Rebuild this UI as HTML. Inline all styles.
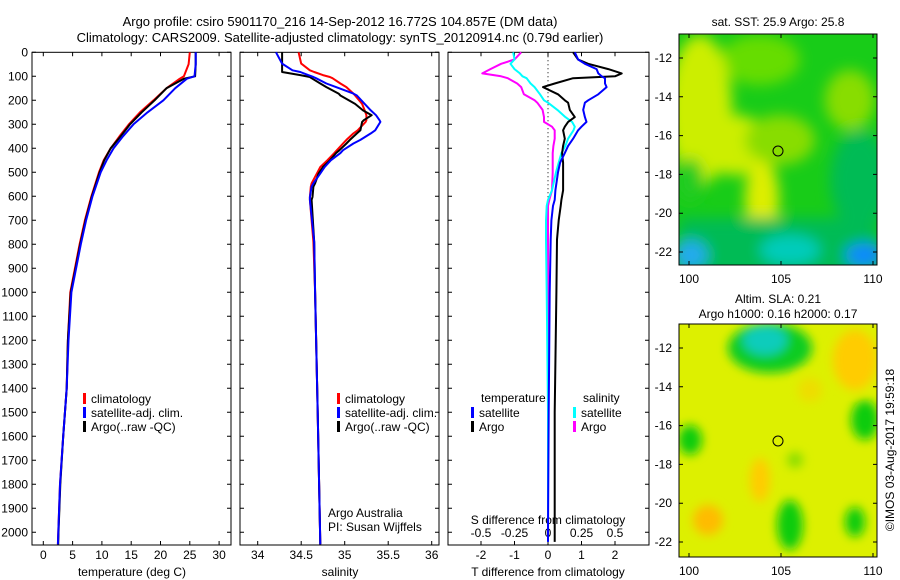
<!DOCTYPE html>
<html><head><meta charset="utf-8"><style>
body{margin:0;background:#fff}
svg{display:block;font-family:"Liberation Sans",sans-serif}
text{fill:#000}
</style></head><body>
<svg id="c" width="900" height="580" viewBox="0 0 900 580" xmlns="http://www.w3.org/2000/svg">
<defs>
<clipPath id="m1c"><rect x="679" y="34" width="198" height="231"/></clipPath>
<clipPath id="m2c"><rect x="679" y="324" width="198" height="233"/></clipPath>
<filter id="bl" x="-50%" y="-50%" width="200%" height="200%"><feGaussianBlur stdDeviation="7"/></filter>
<filter id="bl2" x="-50%" y="-50%" width="200%" height="200%"><feGaussianBlur stdDeviation="5"/></filter>
</defs>
<text x="340" y="26" font-size="13" text-anchor="middle">Argo profile: csiro 5901170_216 14-Sep-2012 16.772S 104.857E (DM data)</text>
<text x="340" y="42" font-size="13" text-anchor="middle">Climatology: CARS2009. Satellite-adjusted climatology: synTS_20120914.nc (0.79d earlier)</text>

<g>
<g clip-path="url(#m1c)">
<rect x="679" y="34" width="198" height="231" fill="#18cc18"/>
<g filter="url(#bl)">
<ellipse cx="760" cy="60" rx="40" ry="25" fill="#66dd00"/>
<ellipse cx="700" cy="110" rx="32" ry="75" fill="#ccee00"/>
<ellipse cx="735" cy="145" rx="35" ry="30" fill="#ccee00"/>
<ellipse cx="762" cy="200" rx="17" ry="42" fill="#ddee00"/>
<ellipse cx="780" cy="140" rx="35" ry="25" fill="#88dd00"/>
<ellipse cx="850" cy="100" rx="25" ry="30" fill="#88dd00"/>
<ellipse cx="690" cy="180" rx="14" ry="22" fill="#22cc22"/>
<rect x="679" y="218" width="198" height="60" fill="#00bb55"/>
<ellipse cx="860" cy="180" rx="30" ry="50" fill="#00bb55"/>
<ellipse cx="790" cy="250" rx="30" ry="15" fill="#00ccbb"/>
<ellipse cx="690" cy="255" rx="18" ry="15" fill="#22aaee"/>
<ellipse cx="865" cy="255" rx="20" ry="12" fill="#1188ff"/>
</g></g>
<rect x="679" y="34" width="198" height="231" fill="none" stroke="#000"/>
<circle cx="778" cy="151" r="5" fill="none" stroke="#000"/>
</g>

<g>
<g clip-path="url(#m2c)">
<rect x="679" y="324" width="198" height="233" fill="#ddf000"/>
<g filter="url(#bl2)">
<ellipse cx="770" cy="348" rx="42" ry="25" fill="#11cc22"/>
<ellipse cx="765" cy="340" rx="22" ry="15" fill="#11ccbb"/>
<ellipse cx="855" cy="360" rx="22" ry="30" fill="#ffcc00"/>
<ellipse cx="865" cy="420" rx="14" ry="20" fill="#11cc11"/>
<ellipse cx="690" cy="440" rx="12" ry="15" fill="#11cc11"/>
<ellipse cx="760" cy="480" rx="10" ry="22" fill="#ffcc00"/>
<ellipse cx="708" cy="520" rx="15" ry="15" fill="#ffbb00"/>
<ellipse cx="790" cy="525" rx="13" ry="25" fill="#11cc11"/>
<ellipse cx="855" cy="522" rx="10" ry="15" fill="#11cc11"/>
<ellipse cx="795" cy="460" rx="8" ry="8" fill="#88dd00"/>
<ellipse cx="810" cy="390" rx="12" ry="12" fill="#eedd00"/>
</g></g>
<rect x="679" y="324" width="198" height="233" fill="none" stroke="#000"/>
<circle cx="778" cy="441" r="5" fill="none" stroke="#000"/>
</g>
<text x="778" y="26" font-size="12" text-anchor="middle">sat. SST: 25.9 Argo: 25.8</text>
<text x="778" y="303" font-size="12" text-anchor="middle">Altim. SLA: 0.21</text>
<text x="778" y="318" font-size="12" text-anchor="middle">Argo h1000: 0.16 h2000: 0.17</text>
<text transform="translate(894,450) rotate(-90)" font-size="12" text-anchor="middle">©IMOS 03-Aug-2017 19:59:18</text>
<g id="g"></g>
</svg>
<script>
// depth grid (m)
const depthT = [0,50,100,110,150,200,250,300,350,400,450,500,600,700,800,1000,1200,1400,1600,1800,2000,2050];
const tempClim = [25.0,24.8,24.0,23.3,21.0,18.8,16.5,14.6,13.0,11.5,10.3,9.5,8.2,7.1,6.2,4.6,4.2,4.0,3.4,2.85,2.56,2.5];
const tempSat  = [26.0,26.0,25.8,24.5,22.5,20.5,17.8,15.4,13.6,12.0,10.8,9.8,8.4,7.3,6.4,4.8,4.3,4.0,3.4,2.85,2.56,2.5];
const tempArgo = [26.0,26.0,25.9,24.0,21.0,19.0,16.8,14.8,13.2,11.5,10.4,9.6,8.3,7.2,6.3,4.7,4.2,4.0,3.4,2.9,2.6,2.55];
const depthS = [0,47,75,82,95,103,108,130,145,172,180,215,242,262,283,290,325,338,365,380,408,420,450,478,505,546,560,603,615,790,1000,1500,2050];
const salClim = [34.47,34.5,34.6,34.65,34.75,34.83,34.86,34.95,35.02,35.1,35.12,35.2,35.23,35.25,35.25,35.24,35.15,35.1,35.02,34.98,34.91,34.88,34.8,34.72,34.68,34.62,34.61,34.6,34.6,34.64,34.66,34.69,34.72];
const salSat  = [34.21,34.28,34.4,34.49,34.58,34.64,34.67,34.79,34.9,35.1,35.14,35.23,35.3,35.36,35.4,35.41,35.35,35.3,35.18,35.1,34.98,34.95,34.84,34.77,34.72,34.64,34.62,34.6,34.6,34.65,34.66,34.69,34.72];
const salArgo = [34.28,34.28,34.28,34.28,34.49,34.6,34.62,34.72,34.79,34.93,34.95,35.12,35.21,35.31,35.22,35.2,35.18,35.14,35.06,35.02,34.94,34.9,34.83,34.75,34.7,34.66,34.64,34.63,34.62,34.65,34.66,34.69,34.72];
const depthD = [0,30,48,70,88,100,108,130,145,175,200,210,240,270,290,310,325,360,390,420,460,500,575,615,640,700,780,1000,1500,2000,2040];
const dTsat  = [0.8,0.9,1.1,1.45,1.5,1.6,1.7,1.7,1.75,1.5,1.2,1.1,1.05,1.1,1.15,1.0,0.9,0.75,0.6,0.5,0.36,0.3,0.22,0.2,0.15,0.1,0.08,0.05,0.02,0.0,0.0];
const dTargo = [0.75,0.9,1.2,1.8,2.2,2.0,0.75,0.2,-0.15,0.3,0.5,0.6,0.65,0.8,0.6,0.5,0.45,0.5,0.45,0.42,0.45,0.45,0.45,0.4,0.38,0.32,0.27,0.25,0.2,0.2,0.2];
const dSsat  = [-0.26,-0.25,-0.28,-0.25,-0.21,-0.19,-0.16,-0.13,-0.1,-0.06,-0.03,0.0,0.07,0.13,0.18,0.2,0.19,0.15,0.13,0.1,0.08,0.06,0.03,0.0,-0.01,-0.015,-0.015,-0.01,0.0,0.0,0.0];
const dSargo = [-0.2,-0.25,-0.35,-0.43,-0.49,-0.35,-0.3,-0.23,-0.2,-0.18,-0.1,-0.08,-0.04,-0.03,-0.03,0.03,0.05,0.05,0.04,0.035,0.035,0.035,0.03,0.01,0.0,0.0,0.0,0.0,0.0,0.0,0.0];
const depthTicks = [0,100,200,300,400,500,600,700,800,900,1000,1100,1200,1300,1400,1500,1600,1700,1800,1900,2000];
const tempTicks = [0,5,10,15,20,25,30];
const salTicks = [34,34.5,35,35.5,36];
const dTTicks = [-2,-1,0,1,2];
const dSTicks = [-0.5,-0.25,0,0.25,0.5];
const dSTickLabels = ["-0.5","-0.25","0","0.25","0.5"];

const NS="http://www.w3.org/2000/svg";
const G=document.getElementById('g');
function el(tag,attrs,parent){const e=document.createElementNS(NS,tag);for(const k in attrs)e.setAttribute(k,attrs[k]);(parent||G).appendChild(e);return e;}
const TOP=52.3, BOT=545;
const yD = d => TOP + d*0.24;
const xT = t => 43.3 + t*5.86;
const xS = s => 257.7 + (s-34)*87;
const xDT = t => 548 + t*33.5;
const xDS = s => 548 + s*134;

const panels=[[32,231],[240,439],[448,649]];
panels.forEach((p,i)=>{
  const r=el('rect',{x:p[0],y:TOP,width:p[1]-p[0],height:BOT-TOP,fill:'none',stroke:'#000'});
  
  
  depthTicks.forEach(d=>{
    const l=el('path',{d:`M${p[0]},${yD(d)}h4M${p[1]},${yD(d)}h-4`,stroke:'#000'});
    
    
  });
});
depthTicks.forEach(d=>{
  const t=el('text',{x:28,y:yD(d)+4,'font-size':12,'text-anchor':'end'});t.textContent=d;
  
  
});
function xticks(vals,labels,fx,p,ly){
  vals.forEach((v,i)=>{
    const x=fx(v);
    const l=el('path',{d:`M${x},${BOT}v-4M${x},${TOP}v4`,stroke:'#000'});
    
    
    const t=el('text',{x:x,y:ly,'font-size':12,'text-anchor':'middle'});t.textContent=labels[i];
    
    
  });
}
xticks(tempTicks,tempTicks,xT,panels[0],559);
xticks(salTicks,salTicks,xS,panels[1],559);
xticks(dTTicks,dTTicks,xDT,panels[2],559);
dSTicks.forEach((v,i)=>{
  const x=xDS(v);
  const l=el('path',{d:`M${x},${BOT}v-4`,stroke:'#000'});
  
  
  const t=el('text',{x:x,y:537,'font-size':12,'text-anchor':'middle'});t.textContent=dSTickLabels[i];
  
  
});
[['temperature (deg C)',132,'temp-axis-title'],['salinity',340,'salinity-axis-title'],['T difference from climatology',548,'t-diff-axis-title']].forEach(a=>{
  const t=el('text',{x:a[1],y:576,'font-size':12,'text-anchor':'middle'});t.textContent=a[0];
  
  
});
const st=el('text',{x:548,y:524,'font-size':12,'text-anchor':'middle'});st.textContent='S difference from climatology';



const zl=el('line',{x1:xDT(0),x2:xDT(0),y1:TOP,y2:yD(650),stroke:'#000','stroke-dasharray':'1,3'});



function line(xs,ds,fx,color,w,name){
  const pts=xs.map((v,i)=>fx(v).toFixed(1)+','+yD(ds[i]).toFixed(1)).join(' ');
  const p=el('polyline',{points:pts,fill:'none',stroke:color,'stroke-width':w,'stroke-linejoin':'round'});
  
  
}
line(tempClim,depthT,xT,'#f00',2,'temp-climatology-line');
line(tempArgo,depthT,xT,'#000',2,'temp-argo-line');
line(tempSat,depthT,xT,'#00f',2,'temp-satellite-line');
line(salClim,depthS,xS,'#f00',2,'salinity-climatology-line');
line(salArgo,depthS,xS,'#000',2,'salinity-argo-line');
line(salSat,depthS,xS,'#00f',2,'salinity-satellite-line');
line(dSargo,depthD,xDS,'#f0f',2,'s-diff-argo-line');
line(dSsat,depthD,xDS,'#0ff',2,'s-diff-satellite-line');
line(dTargo,depthD,xDT,'#000',2,'t-diff-argo-line');
line(dTsat,depthD,xDT,'#00f',2,'t-diff-satellite-line');

function legend(x,y,items,name){
  items.forEach((it,i)=>{
    const yy=y+i*14;
    const m=el('rect',{x:x,y:yy-5,width:3,height:11,fill:it[1]});
    
    
    const t=el('text',{x:x+8,y:yy+5,'font-size':12});t.textContent=it[0];
    
    
  });
}
const leg=[['climatology','#f00'],['satellite-adj. clim.','#00f'],['Argo(..raw -QC)','#000']];
legend(83,398,leg,'temp-legend');
legend(337,398,leg,'salinity-legend');
const h1=el('text',{x:481,y:402,'font-size':12});h1.textContent='temperature';


const h2=el('text',{x:583,y:402,'font-size':12});h2.textContent='salinity';


legend(471,412,[['satellite','#00f'],['Argo','#000']],'t-diff-legend');
legend(573,412,[['satellite','#0ff'],['Argo','#f0f']],'s-diff-legend');
const a1=el('text',{x:328,y:517,'font-size':12});a1.textContent='Argo Australia';


const a2=el('text',{x:328,y:531,'font-size':12});a2.textContent='PI: Susan Wijffels';



// map axes
const lats=[-12,-14,-16,-18,-20,-22];
const lons=[100,105,110];
function mapAxes(top,bot,y12,y22,ly,name){
  const ly_=lat=>y12+(lat+12)/(-10)*(y22-y12);
  lats.forEach(l=>{
    const y=ly_(l);
    const p=el('path',{d:`M679,${y}h4M877,${y}h-4`,stroke:'#000'});
    
    
    const t=el('text',{x:672,y:y+4,'font-size':12,'text-anchor':'end'});t.textContent=l;
    
    
  });
  lons.forEach(l=>{
    const x=689+(l-100)*18.4;
    const p=el('path',{d:`M${x},${top}v4M${x},${bot}v-4`,stroke:'#000'});
    
    
    const t=el('text',{x:x,y:ly,'font-size':12,'text-anchor':'middle'});t.textContent=l;
    
    
  });
}
mapAxes(34,265,58,252,283,'sst-map');
mapAxes(324,557,348,542,575,'sla-map');
</script>
</body></html>
